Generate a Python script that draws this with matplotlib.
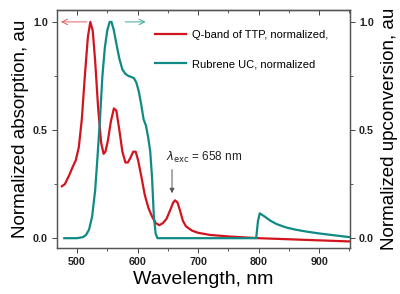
import matplotlib
matplotlib.use("Agg")
import matplotlib.pyplot as plt
from matplotlib.ticker import MultipleLocator

plt.rcParams['font.family'] = ['Liberation Sans', 'DejaVu Sans']

red_wl = [475, 480, 487, 493, 498, 503, 508, 513, 518, 522, 526, 530, 535, 540, 544, 547,
          551, 556, 561, 565, 570, 575, 580, 584, 588, 593, 597, 601, 606, 612, 618, 624,
          630, 636, 642, 648, 654, 659, 662, 666, 670, 675, 680, 690, 700, 720, 750, 800,
          850, 900, 950]
red_abs = [0.24, 0.25, 0.29, 0.33, 0.36, 0.42, 0.55, 0.75, 0.93, 1.0, 0.96, 0.82, 0.60, 0.44,
           0.39, 0.40, 0.45, 0.54, 0.60, 0.59, 0.50, 0.40, 0.35, 0.35, 0.37, 0.40, 0.40, 0.36,
           0.29, 0.20, 0.14, 0.10, 0.07, 0.06, 0.07, 0.09, 0.13, 0.165, 0.175, 0.165, 0.13,
           0.08, 0.055, 0.035, 0.025, 0.015, 0.008, 0.0, -0.005, -0.01, -0.015]

teal_wl = [479, 500, 510, 515, 520, 525, 530, 534, 538, 542, 546, 550, 554, 557, 561, 565,
           570, 575, 580, 585, 590, 594, 598, 602, 606, 610, 614, 618, 621, 624, 627, 630,
           633, 700, 796, 799, 802, 810, 820, 830, 845, 860, 880, 900, 920, 950]
teal_uc = [0.0, 0.0, 0.005, 0.015, 0.04, 0.10, 0.22, 0.38, 0.55, 0.75, 0.88, 0.96, 1.0, 1.0,
           0.96, 0.90, 0.83, 0.78, 0.76, 0.75, 0.745, 0.74, 0.72, 0.68, 0.62, 0.55, 0.52,
           0.46, 0.40, 0.28, 0.10, 0.02, 0.0, 0.0, 0.0, 0.08, 0.115, 0.10, 0.08, 0.065, 0.05,
           0.04, 0.03, 0.022, 0.015, 0.005]

red_label = "Q-band of TTP, normalized,"
teal_label = "Rubrene UC, normalized"
x_ticks = [500, 600, 700, 800, 900]
y_ticks = [0.0, 0.5, 1.0]

RED = '#d2141e'
TEAL = '#0f8a84'
TICKC = '#444444'

fig = plt.figure(figsize=(4.0, 2.94), dpi=100)
ax = fig.add_axes([0.1425, 0.156, 0.7325, 0.81])
ax2 = ax.twinx()

l1, = ax.plot(red_wl, red_abs, color=RED, lw=1.6, label=red_label)
l2, = ax2.plot(teal_wl, teal_uc, color=TEAL, lw=1.6, label=teal_label)

xlim = (467, 951)
ylim = (-0.046, 1.055)
ax.set_xlim(*xlim)
ax.set_ylim(*ylim)
ax2.set_ylim(*ylim)

ax.set_xticks(x_ticks)
ax.xaxis.set_minor_locator(MultipleLocator(50))
for a in (ax, ax2):
    a.set_yticks(y_ticks)
    a.yaxis.set_minor_locator(MultipleLocator(0.25))
tfs = 7.7
ax.set_yticklabels([f"{v:.1f}" for v in y_ticks], fontsize=tfs, fontweight='bold')
ax2.set_yticklabels([f"{v:.1f}" for v in y_ticks], fontsize=tfs, fontweight='bold')
ax.set_xticklabels([str(v) for v in x_ticks], fontsize=tfs, fontweight='bold')

ax.tick_params(axis='both', which='both', direction='out', top=False, colors=TICKC,
               labelcolor='#222222')
ax.tick_params(which='major', length=3.5, width=0.7, pad=3)
ax.tick_params(which='minor', length=2, width=0.6)
ax.tick_params(axis='y', which='both', right=False)
ax2.tick_params(axis='y', which='both', direction='out', colors=TICKC, labelcolor='#222222')
ax2.tick_params(which='major', length=3.5, width=0.7, pad=3)
ax2.tick_params(which='minor', length=2, width=0.6)

# top ticks pointing inward
sec = ax.secondary_xaxis('top')
sec.set_xticks(x_ticks)
sec.xaxis.set_minor_locator(MultipleLocator(50))
sec.tick_params(axis='x', which='both', direction='in', labeltop=False, colors=TICKC)
sec.tick_params(which='major', length=3.5, width=0.7)
sec.tick_params(which='minor', length=2, width=0.6)

for a in (ax, ax2, sec):
    for s in a.spines.values():
        s.set_color('#555555')
        s.set_linewidth(0.9)

ax.set_xlabel("Wavelength, nm", fontsize=14, labelpad=3)
ax.set_ylabel("Normalized absorption, au", fontsize=13.5, labelpad=3)
ax2.set_ylabel("Normalized upconversion, au", fontsize=13.5, labelpad=5)

leg = ax.legend(handles=[l1, l2], loc='upper left', bbox_to_anchor=(0.32, 0.935),
                frameon=False, fontsize=8, handlelength=2.8, handletextpad=0.5,
                labelspacing=1.75, borderaxespad=0.0)

# direction arrows
ax.annotate('', xy=(469, 1.0), xytext=(521, 1.0),
            arrowprops=dict(arrowstyle='->', color='#e06060', lw=0.7))
ax2.annotate('', xy=(618, 1.0), xytext=(575, 1.0),
             arrowprops=dict(arrowstyle='->', color='#40a8a0', lw=0.7))

# excitation annotation
ax.annotate('', xy=(657, 0.195), xytext=(657, 0.33),
            arrowprops=dict(arrowstyle='-|>', color='#555555', lw=0.7, mutation_scale=7))
ax.text(647, 0.375, r"$\lambda_{\mathrm{exc}}$ = 658 nm", fontsize=8.5, ha='left', va='center',
        color='#222222')

fig.savefig("out.png", dpi=100)
